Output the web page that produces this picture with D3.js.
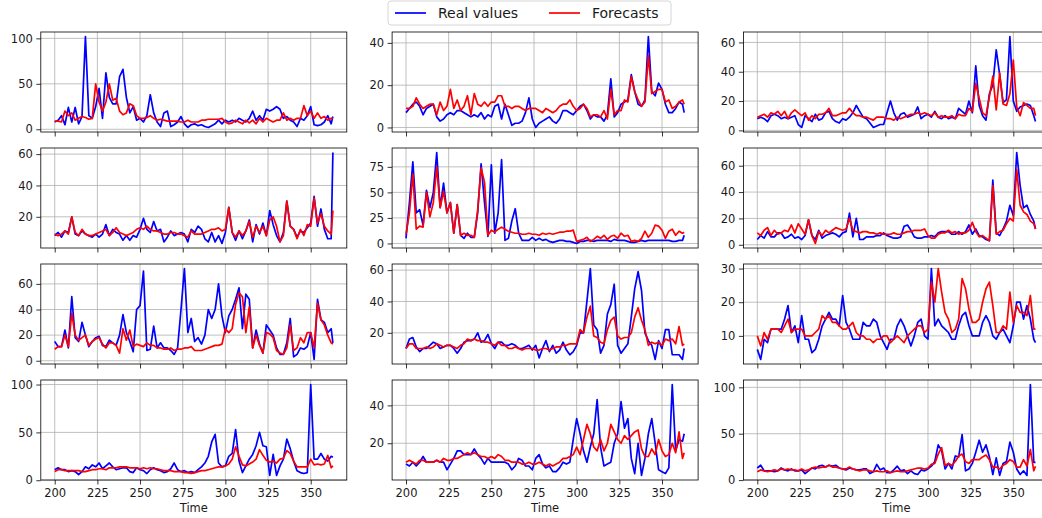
<!DOCTYPE html>
<html>
<head>
<meta charset="utf-8">
<script src="https://cdn.jsdelivr.net/npm/d3@7"></script>
<style>
body { margin: 0; background: #fff; }
svg { display: block; font-family: "DejaVu Sans", sans-serif; }
</style>
</head>
<body>
<svg id="chart" width="1042" height="518"></svg>
<script>
// time steps: every second step from 200 to 362, plus the last one (363)
var times = d3.range(200, 363, 2).concat([363]);
var xTicks = [200, 225, 250, 275, 300, 325, 350];
var seriesNames = ["Real values", "Forecasts"];

var real1 = [8,10,15,5,24,8,24,6,14,102, 15,12,25,45,12,62,35,28,28,58, 66,35,18,25,10,12,8,15,38,18, 8,3,18,20,3,5,8,14,6,2, 5,6,4,5,3,2,4,6,10,6, 10,8,10,8,12,10,8,12,20,10, 15,10,22,20,22,25,22,12,14,10, 8,3,12,10,15,25,5,4,5,8, 15,6,14];
var fc1 = [9,9,8,20,15,18,10,12,14,13, 11,12,50,30,20,30,50,32,34,20, 16,18,28,26,15,12,12,13,15,12, 10,11,10,9,9,9,9,8,8,10, 8,8,8,10,10,11,11,11,11,12, 8,6,7,10,8,6,10,7,10,6, 12,8,12,10,8,10,10,18,10,12, 10,12,12,26,15,20,12,18,12,14, 10,12,12];

var real2 = [7,9,11,12,10,6,9,10,11,5, 3,4,6,7,6,8,8,7,6,5, 6,5,7,4,6,5,10,11,4,11, 6,1,2,2,3,7,14,4,0,2, 3,4,5,3,2,4,8,8,7,6, 8,10,11,8,4,6,5,5,3,6, 23,5,7,11,12,13,25,17,11,10, 13,43,17,15,21,18,11,7,7,9, 12,11,7];
var fc2 = [9,9,10,14,11,9,10,11,11,6, 12,8,10,18,9,13,8,10,15,6, 16,11,10,12,10,12,12,15,15,10, 10,9,10,10,9,8,9,9,9,8, 7,9,8,7,8,10,11,11,13,10, 8,9,11,9,5,6,6,5,8,4, 18,6,8,8,13,12,24,17,13,10, 12,34,16,17,18,18,12,13,9,10, 12,13,11];

var real3 = [8,9,8,6,10,11,10,8,9,8, 9,10,4,2,10,8,6,11,7,8, 12,13,8,6,5,8,7,9,12,17, 13,9,8,5,2,3,4,4,12,20, 12,7,11,12,9,10,11,16,8,10, 11,9,13,9,8,10,8,9,8,15, 13,11,20,12,44,17,10,7,25,31, 55,38,19,21,64,20,13,16,17,18, 17,10,6];
var fc3 = [9,10,11,9,12,11,13,10,13,8, 12,14,12,10,12,7,10,8,11,11, 12,15,10,10,11,12,12,15,12,10, 10,9,9,8,7,9,9,9,8,8, 7,9,8,9,10,11,11,12,11,12, 11,10,12,9,10,9,9,10,8,11, 10,10,15,13,32,22,12,10,23,37, 14,39,18,17,25,48,16,10,19,17, 15,15,10];

var real4 = [8,10,7,11,10,20,9,8,11,9, 8,7,9,7,9,15,8,12,10,9, 5,8,5,8,7,12,19,12,10,17, 11,12,4,7,11,8,9,10,9,4, 12,10,14,12,6,4,10,4,8,3, 10,26,10,5,11,6,11,18,4,15, 9,16,8,24,15,8,4,10,30,14, 12,7,11,10,13,16,33,14,25,12, 6,6,61];
var fc4 = [9,8,9,11,9,20,10,8,12,9, 8,8,9,10,11,12,8,10,13,10, 9,8,9,10,12,13,12,14,12,11, 11,10,9,9,10,10,9,9,8,7, 11,9,9,9,10,11,12,12,13,11, 12,26,10,7,11,8,11,17,7,14, 10,14,8,18,20,14,4,8,30,14, 12,6,12,8,15,14,32,16,22,14, 11,9,24];

var real5 = [5,40,80,30,33,18,52,35,50,89, 35,59,30,40,10,38,8,5,10,6, 6,30,78,40,7,77,10,30,82,3, 5,22,34,10,3,3,3,6,3,5, 3,4,2,1,2,3,3,2,2,1, 0,2,2,3,3,2,3,3,3,3, 2,4,3,3,3,2,1,1,2,3, 2,3,3,3,3,3,3,3,2,2, 3,3,8];
var fc5 = [9,30,68,14,17,16,50,26,40,75, 35,51,30,40,10,38,8,10,8,8, 6,33,74,60,8,13,11,14,16,14, 12,11,10,10,9,9,10,9,9,8, 10,9,10,9,10,11,11,12,12,13, 2,3,4,6,2,4,7,5,8,4, 7,8,5,10,7,8,2,3,2,5, 12,6,10,18,17,13,5,12,14,8, 12,10,11];

var real6 = [4,7,5,10,6,6,9,9,5,6, 8,5,6,4,7,19,7,4,11,5, 7,8,9,8,6,9,10,24,6,20, 4,4,6,6,6,7,7,9,7,6, 5,5,6,14,15,11,6,5,5,6, 6,7,6,9,10,10,10,8,8,10, 8,10,15,8,12,7,6,4,3,49, 9,7,12,18,30,22,70,45,28,30, 23,18,12];
var fc6 = [9,7,11,13,7,11,8,9,11,10, 15,9,16,12,8,19,7,1,10,7, 11,9,11,13,12,11,12,20,11,10, 9,10,10,9,9,8,9,8,8,8, 9,8,8,9,10,10,11,11,11,12, 7,5,5,8,9,9,11,9,10,8, 9,9,11,17,10,6,7,5,3,45, 8,10,11,16,20,18,57,30,25,23, 18,16,12];

var real7 = [15,11,11,24,10,50,18,15,30,20, 11,15,18,19,12,11,16,14,12,20, 36,22,15,7,40,43,70,8,9,27, 10,14,10,10,8,5,10,40,72,22, 33,15,18,13,20,40,33,40,60,35, 22,35,40,48,57,25,52,48,10,24, 13,6,28,24,20,10,5,5,14,33, 3,5,10,9,11,22,1,48,32,30, 22,25,14];
var fc7 = [9,11,11,20,11,37,20,16,18,20, 12,15,17,18,13,10,14,14,12,6, 25,16,24,11,13,12,11,14,12,12, 10,10,9,9,10,8,9,9,10,10, 11,8,8,8,9,10,11,12,12,13, 25,22,25,44,53,50,22,42,10,20, 12,6,22,21,18,8,6,5,10,28, 8,10,18,14,22,22,10,45,32,28, 20,14,13];

var real8 = [10,16,17,11,8,10,10,12,14,13, 10,11,12,12,10,7,10,14,15,15, 16,20,14,15,19,13,10,14,14,12, 12,13,12,10,10,11,12,9,12,4, 10,15,8,12,7,9,14,9,6,8, 12,20,20,40,61,25,22,7,12,32, 38,51,12,7,10,13,30,48,59,47, 20,15,12,3,15,10,22,22,6,6, 6,3,10];
var fc8 = [10,13,13,10,10,10,11,10,11,13, 12,11,12,12,11,10,12,13,16,15, 16,15,15,14,14,13,12,14,12,12, 10,10,11,10,9,10,10,10,9,9, 10,10,9,10,11,11,12,12,13,13, 13,22,20,30,37,18,17,14,13,22, 28,30,18,16,17,17,20,30,36,28, 22,12,14,13,14,12,16,15,16,13, 24,12,13];

var real9 = [6,3,9,8,12,12,12,12,15,19, 11,13,8,16,9,9,5,6,9,13, 15,17,15,15,13,22,14,12,9,9, 9,14,13,13,15,14,10,8,6,9, 9,13,15,13,10,7,10,14,15,10, 9,30,13,15,13,12,11,9,9,13, 16,17,13,10,10,10,14,16,14,10, 9,11,12,10,8,13,20,20,15,19, 15,9,8];
var fc9 = [10,7,11,9,12,12,12,11,13,15, 11,12,12,12,10,10,10,11,12,16, 15,16,14,14,13,12,12,13,14,11, 10,10,9,9,8,9,9,10,10,8, 9,10,9,8,10,11,12,13,13,11, 12,26,20,30,23,17,15,11,12,15, 27,24,18,14,14,15,20,24,26,19, 11,11,13,12,23,14,19,17,17,16, 22,12,12];

var real10 = [11,13,11,11,9,10,9,6,9,14, 12,16,14,18,12,15,18,14,11,12, 13,13,9,8,13,11,10,7,11,13, 11,10,8,9,12,18,11,9,10,8, 9,8,11,14,18,25,40,48,18,14, 15,25,28,53,20,8,15,22,27,36, 50,36,35,5,27,5,15,22,43,33, 20,10,8,7,8,100,22,22,28,22, 20,25,24];
var fc10 = [9,11,11,10,10,10,10,10,9,9, 10,11,11,12,12,11,13,13,13,14, 14,14,13,13,13,12,13,12,13,12, 12,11,10,10,10,9,9,9,8,8, 7,8,9,10,10,11,12,13,14,14, 15,17,22,35,25,16,15,17,19,22, 32,26,21,19,20,18,22,23,31,28, 20,14,14,14,14,22,16,17,16,17, 26,13,15];

var real11 = [9,8,10,8,10,13,10,10,10,11, 10,10,6,9,12,16,16,14,14,14, 17,14,12,9,12,10,10,10,10,10, 9,6,8,12,11,8,8,6,12,14, 9,7,8,5,5,7,10,9,10,22, 33,25,16,10,18,25,43,18,8,9, 10,20,25,42,28,33,12,4,20,3, 12,25,33,20,6,5,4,7,51,16, 22,21,25];
var fc11 = [10,11,10,9,11,11,10,10,10,11, 10,12,11,11,12,12,13,14,15,14, 15,14,13,13,12,13,12,14,13,11, 11,10,10,10,9,9,10,9,9,10, 9,8,9,8,9,10,12,12,13,14, 18,14,22,30,25,18,16,22,16,20, 30,26,22,20,24,22,24,26,27,17, 13,13,17,14,22,16,13,14,20,15, 26,12,15];

var real12 = [13,16,10,10,10,9,10,13,11,10, 12,10,10,11,7,10,13,12,15,16, 14,16,15,16,13,12,11,13,12,11, 11,12,12,7,9,17,11,13,8,8, 11,15,10,11,7,10,7,6,11,10, 12,15,20,38,32,12,18,12,26,25, 49,10,12,18,30,43,30,38,25,6, 24,5,18,20,41,30,12,6,10,5, 103,19,19];
var fc12 = [9,11,10,9,10,11,10,12,11,12, 11,11,10,12,10,11,13,14,13,14, 14,16,14,14,13,12,12,14,12,11, 10,11,11,10,9,10,9,9,10,8, 9,10,9,9,10,11,12,13,13,12, 13,17,18,28,35,16,18,16,20,26, 28,20,18,22,22,22,25,27,22,14, 14,12,16,18,22,20,14,14,22,15, 33,10,15];

var yTicks = [
    [0, 50, 100], [0, 20, 40], [0, 20, 40, 60],
    [20, 40, 60], [0, 25, 50, 75], [0, 20, 40, 60],
    [0, 20, 40, 60], [20, 40, 60], [10, 20, 30],
    [0, 50, 100], [20, 40], [0, 50, 100]
];

var panels = [
    [real1, fc1], [real2, fc2], [real3, fc3],
    [real4, fc4], [real5, fc5], [real6, fc6],
    [real7, fc7], [real8, fc8], [real9, fc9],
    [real10, fc10], [real11, fc11], [real12, fc12]
];

var colLeft = [40.8, 392.1, 743.4];
var rowTop = [32, 148, 264, 380];
var width = 306;
var height = 100;
var colors = ["#0000ff", "#ff0000"];

var svg = d3.select("#chart");

// matplotlib-like 5% margins on the time axis
var tMin = d3.min(times), tMax = d3.max(times);
var tPad = (tMax - tMin) * 0.05;

panels.forEach(function(series, i) {
    var row = Math.floor(i / 3);
    var col = i % 3;

    var allValues = series[0].concat(series[1]);
    var vMin = d3.min(allValues), vMax = d3.max(allValues);
    var vPad = (vMax - vMin) * 0.05;

    var x = d3.scaleLinear()
        .domain([tMin - tPad, tMax + tPad])
        .range([0, width]);

    var y = d3.scaleLinear()
        .domain([vMin - vPad, vMax + vPad])
        .range([height, 0]);

    var g = svg.append("g")
        .attr("transform", "translate(" + colLeft[col] + "," + rowTop[row] + ")");

    // grid
    g.selectAll(".xgrid")
        .data(xTicks)
    .enter().append("line")
        .attr("x1", function(d) { return x(d); })
        .attr("x2", function(d) { return x(d); })
        .attr("y1", 0)
        .attr("y2", height)
        .attr("stroke", "#b0b0b0")
        .attr("stroke-width", 0.8);

    g.selectAll(".ygrid")
        .data(yTicks[i])
    .enter().append("line")
        .attr("x1", 0)
        .attr("x2", width)
        .attr("y1", function(d) { return y(d); })
        .attr("y2", function(d) { return y(d); })
        .attr("stroke", "#b0b0b0")
        .attr("stroke-width", 0.8);

    var line = d3.line()
        .x(function(d, j) { return x(times[j]); })
        .y(function(d) { return y(d); });

    series.forEach(function(values, k) {
        g.append("path")
            .datum(values)
            .attr("fill", "none")
            .attr("stroke", colors[k])
            .attr("stroke-width", 1.7)
            .attr("stroke-linejoin", "round")
            .attr("d", line);
    });

    // spines
    g.append("rect")
        .attr("width", width)
        .attr("height", height)
        .attr("fill", "none")
        .attr("stroke", "#000")
        .attr("stroke-width", 0.8);

    var yAxis = d3.axisLeft(y).tickValues(yTicks[i]).tickSize(4.5).tickPadding(3.5);
    var xAxis = d3.axisBottom(x).tickValues(xTicks).tickSize(4.5).tickPadding(4);
    if (row < 3) xAxis.tickFormat("");

    var ya = g.append("g").call(yAxis);
    var xa = g.append("g").attr("transform", "translate(0," + height + ")").call(xAxis);

    [ya, xa].forEach(function(a) {
        a.select(".domain").remove();
        a.attr("font-family", null).attr("font-size", null);
        a.selectAll("line").attr("stroke", "#000").attr("stroke-width", 0.8);
        a.selectAll("text").attr("fill", "#1a1a1a").style("font-size", "11.5px");
    });

    if (row === 3) {
        g.append("text")
            .attr("x", width / 2)
            .attr("y", 132)
            .attr("text-anchor", "middle")
            .attr("fill", "#1a1a1a")
            .style("font-size", "11.5px")
            .text("Time");
    }
});

// legend
var legend = svg.append("g").attr("transform", "translate(388,1)");
legend.append("rect")
    .attr("width", 283)
    .attr("height", 24)
    .attr("rx", 3)
    .attr("fill", "#fff")
    .attr("fill-opacity", 0.8)
    .attr("stroke", "#cccccc")
    .attr("stroke-width", 0.8);

var legendX = [7, 161];
seriesNames.forEach(function(name, k) {
    legend.append("line")
        .attr("x1", legendX[k])
        .attr("x2", legendX[k] + 31)
        .attr("y1", 12)
        .attr("y2", 12)
        .attr("stroke", colors[k])
        .attr("stroke-width", 1.7);
    legend.append("text")
        .attr("x", legendX[k] + 43)
        .attr("y", 12)
        .attr("dy", "0.35em")
        .attr("fill", "#1a1a1a")
        .style("font-size", "14px")
        .text(name);
});
</script>
</body>
</html>
